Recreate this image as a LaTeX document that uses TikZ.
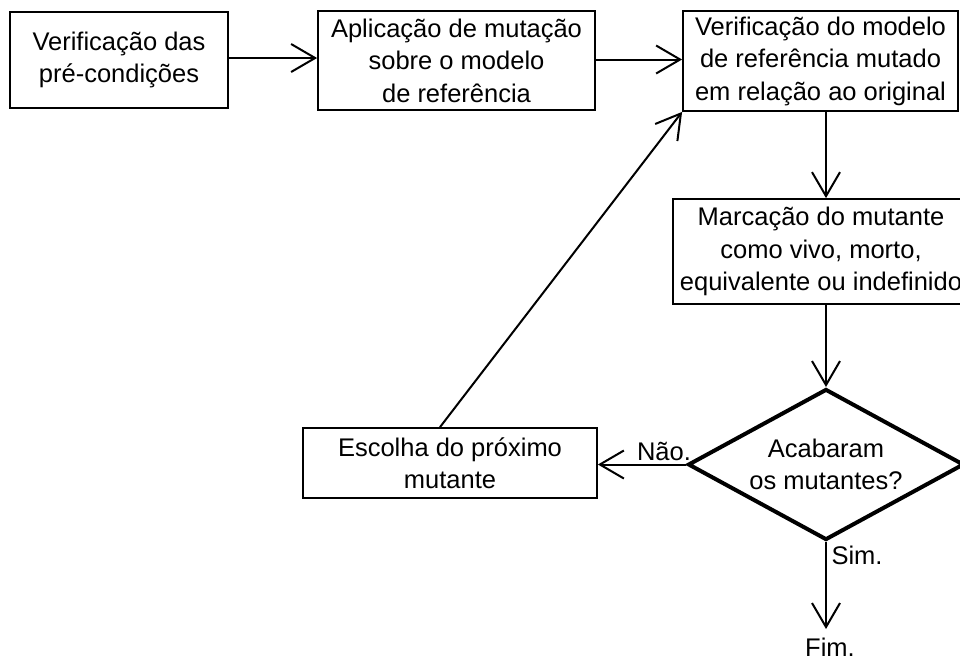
\documentclass[tikz,border=0pt]{standalone}
\usepackage{fontspec}
\setmainfont{Liberation Sans}
\usetikzlibrary{arrows.meta,shapes.geometric,calc}
\begin{document}
\begin{tikzpicture}[x=1pt,y=-1pt,
  every node/.style={font=\fontsize{25.5}{32.5}\selectfont, align=center, inner sep=0pt},
  box/.style={draw, line width=1.8pt, rectangle},
  dec/.style={draw, line width=4pt, diamond, aspect=1.83, minimum width=276pt, minimum height=151pt, line join=miter},
  flow/.style={line width=2pt, -{Straight Barb[length=24pt,width=28pt,line width=2pt]}},
  lbl/.style={inner sep=0pt}]
\clip (0,0) rectangle (960,662);
\node[box, minimum width=218pt, minimum height=96pt] (b1) at (119,60) {Verificação das\\pré-condições};
\node[box, minimum width=277pt, minimum height=99pt] (b2) at (456.5,60.5) {Aplicação de mutação\\sobre o modelo\\de referência};
\node[box, minimum width=275pt, minimum height=100pt] (b3) at (820.5,61) {Verificação do modelo\\de referência mutado\\em relação ao original};
\node[box, minimum width=296pt, minimum height=105pt] (b4) at (821,251.5) {Marcação do mutante\\como vivo, morto,\\equivalente ou indefinido};
\node[box, minimum width=294pt, minimum height=70pt] (b5) at (450,463) {Escolha do próximo\\mutante};
\node[dec] (d) at (826,464.5) {Acabaram\\os mutantes?};
\coordinate (fimend) at (826,629);
\node[lbl] (nao) at (664,451) {Não.};
\node[lbl] (sim) at (857,555) {Sim.};
\node[lbl] (fim) at (830,647) {Fim.};
\draw[flow] ([yshift=2pt]b1.east) -- ([yshift=2pt]b1.east -| b2.west);
\draw[flow] ([yshift=1pt]b2.east) -- ([yshift=1pt]b2.east -| b3.west);
\draw[flow] (b3.south -| d.north) -- (b4.north -| d.north);
\draw[flow] (b4.south -| d.north) -- (d.north);
\draw[flow] (d.west) -- (d.west -| b5.east);
\draw[flow] (d.south) -- (fimend);
\draw[flow] ([xshift=-10pt]b5.north) -- (b3.south west);
\end{tikzpicture}
\end{document}
